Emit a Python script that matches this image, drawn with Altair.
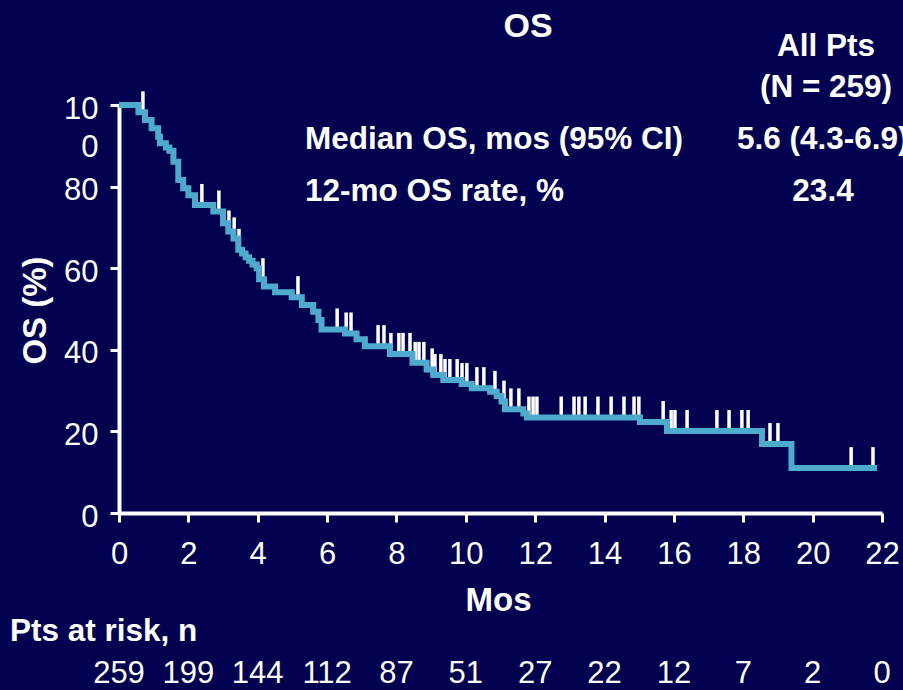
import altair as alt
import numpy as np
import pandas as pd

# Kaplan-Meier overall survival: month of each drop and survival (%) after it
step_months = [0, 0.56, 0.75, 0.94, 1.13, 1.18, 1.35, 1.45, 1.57, 1.71, 1.85, 2.0,
               2.19, 2.72, 3.0, 3.15, 3.3, 3.44, 3.55, 3.65, 3.75, 3.85, 3.97, 4.04,
               4.18, 4.5, 4.98, 5.27, 5.6, 5.75, 5.84, 6.52, 6.85, 7.09, 7.81, 8.46,
               8.87, 9.06, 9.35, 9.88, 10.17, 10.70, 10.89, 11.03, 11.13, 11.66,
               11.76, 15.02, 15.8, 18.54, 19.39, 21.86]
step_surv = [100, 98.2, 96.3, 94.3, 92.2, 90.6, 89.6, 88.8, 86.1, 81.6, 79.6, 77.9,
             75.5, 73.9, 71.0, 69.0, 67.3, 64.5, 63.6, 62.7, 61.8, 60.9, 60.0, 57.3,
             55.5, 54.1, 52.9, 51.0, 49.3, 47.3, 45.0, 44.0, 42.6, 40.9, 39.0, 36.8,
             35.2, 33.8, 32.6, 31.6, 30.6, 29.7, 28.7, 27.3, 25.4, 24.4,
             23.4, 22.3, 20.1, 16.9, 11.0, 11.0]

# Censored observations (months)
censor_months = [0.69, 2.39, 2.88, 3.17, 3.32, 3.46, 4.15, 5.16, 6.29, 6.55, 6.69,
                 7.47, 7.64, 7.84, 8.07, 8.19, 8.39, 8.54, 8.65, 8.79, 9.03, 9.11,
                 9.28, 9.40, 9.54, 9.75, 9.89, 10.03, 10.32, 10.52, 10.84, 11.10,
                 11.30, 11.53, 11.82, 11.94, 12.05, 12.75, 13.12, 13.26, 13.44,
                 13.81, 14.19, 14.56, 14.85, 14.99, 15.69, 15.92, 16.03, 16.38,
                 17.24, 17.59, 17.96, 18.14, 18.77, 19.00, 21.11, 21.74]

# Patients at risk under the x axis
risk_months = [0, 2, 4, 6, 8, 10, 12, 14, 16, 18, 20, 22]
risk_counts = [259, 199, 144, 112, 87, 51, 27, 22, 12, 7, 2, 0]

BG = "#010150"
CURVE = "#4FABCD"
FONT = "Liberation Sans"
BOLD_SIZE = 31.5
NUM_SIZE = 31

km = pd.DataFrame({"month": step_months, "surv": step_surv})
idx = np.searchsorted(np.array(step_months), np.array(censor_months), side="right") - 1
cens = pd.DataFrame({"month": censor_months, "surv": np.array(step_surv)[idx]})
risk = pd.DataFrame({"month": risk_months, "n": [str(v) for v in risk_counts]})

x_scale = alt.Scale(domain=[0, 22], nice=False, zero=False)
y_scale = alt.Scale(domain=[0, 100], nice=False)

x_axis = alt.Axis(
    values=list(range(0, 23, 2)), title="Mos", grid=False,
    domainColor="white", domainWidth=4, tickColor="white", tickWidth=3, tickSize=9,
    labelColor="white", labelFont=FONT, labelFontSize=NUM_SIZE, labelPadding=17,
    labelFlush=False, labelOverlap=False,
    titleColor="white", titleFont=FONT, titleFontSize=33, titleFontWeight="bold",
    titleX=379, titleY=87, titleBaseline="middle",
)
y_axis = alt.Axis(
    values=[0, 20, 40, 60, 80, 100], title="OS (%)", grid=False,
    domainColor="white", domainWidth=4, tickColor="white", tickWidth=3, tickSize=9,
    labelColor="white", labelFont=FONT, labelFontSize=NUM_SIZE, labelPadding=12,
    labelExpr="datum.value == 100 ? ['10', '0'] : datum.label",
    labelLineHeight=38, labelFlush=False, labelOverlap=False,
    labelBaseline={"condition": {"test": "datum.value == 100", "value": "top"}, "value": "middle"},
    labelOffset={"condition": {"test": "datum.value == 100", "value": -11}, "value": 4},
    titleColor="white", titleFont=FONT, titleFontSize=33, titleFontWeight="bold",
    titleX=-84, titleY=205, titleAlign="center", titleBaseline="middle", titleAngle=-90,
)

ticks = alt.Chart(cens).mark_tick(
    orient="vertical", size=21, thickness=3.5, color="white", opacity=1, yOffset=-10.5
).encode(
    x=alt.X("month:Q", scale=x_scale, axis=x_axis),
    y=alt.Y("surv:Q", scale=y_scale, axis=y_axis),
)

curve = alt.Chart(km).mark_line(
    interpolate="step-after", color=CURVE, strokeWidth=6
).encode(
    x=alt.X("month:Q", scale=x_scale),
    y=alt.Y("surv:Q", scale=y_scale),
)

risk_text = alt.Chart(risk).mark_text(
    font=FONT, fontSize=NUM_SIZE, color="white", baseline="middle", align="center"
).encode(
    x=alt.X("month:Q", scale=x_scale),
    y=alt.value(569),
    text="n:N",
)

# Title, summary table and row heading
labels = pd.DataFrame({
    "label": ["OS", "All Pts", "(N = 259)", "Median OS, mos (95% CI)",
              "5.6 (4.3-6.9)", "12-mo OS rate, %", "23.4", "Pts at risk, n"],
    "px": [409, 707, 707, 186, 618, 186, 704, -109],
    "py": [-78, -58, -17, 35, 35, 87, 87, 527],
    "size": [34, BOLD_SIZE, BOLD_SIZE, BOLD_SIZE, BOLD_SIZE, BOLD_SIZE, BOLD_SIZE, BOLD_SIZE],
    "align": ["center", "center", "center", "left", "left", "left", "center", "left"],
})

def text_layer(align):
    return alt.Chart(labels[labels["align"] == align]).mark_text(
        font=FONT, fontWeight="bold", color="white", align=align, baseline="middle"
    ).encode(
        x=alt.X("px:Q", scale=None),
        y=alt.Y("py:Q", scale=None),
        size=alt.Size("size:Q", scale=None, legend=None),
        text="label:N",
    )

chart = alt.layer(
    ticks, curve, risk_text, text_layer("center"), text_layer("left")
).properties(
    width=763, height=408,
    padding={"left": 119, "top": 105, "right": 21, "bottom": 177},
    autosize=alt.AutoSizeParams(type="none"),
    background=BG,
).configure_view(stroke=None)

chart.save("out.html", embed_options={"renderer": "svg", "actions": False})
